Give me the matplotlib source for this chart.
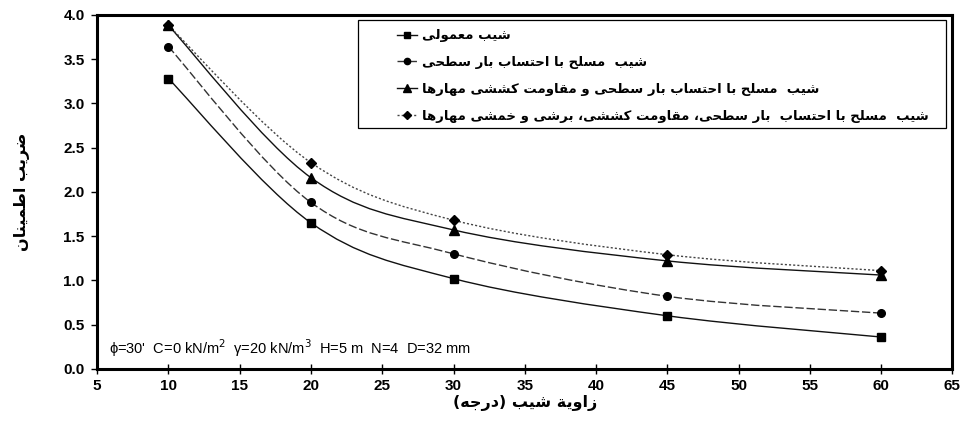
import matplotlib
matplotlib.use('Agg')
import matplotlib.pyplot as plt
import numpy as np
from matplotlib.lines import Line2D
from matplotlib.path import Path
from matplotlib.patches import PathPatch, Rectangle

# slope angle (degrees)
angles = [10, 20, 30, 45, 60]
# factor of safety for each case
fs_plain = [3.28, 1.65, 1.02, 0.60, 0.36]
fs_surface = [3.64, 1.88, 1.30, 0.82, 0.63]
fs_tension = [3.88, 2.16, 1.57, 1.22, 1.06]
fs_full = [3.88, 2.33, 1.68, 1.29, 1.11]

labels = [
    'شیب معمولی',
    'شیب  مسلح با احتساب بار سطحی',
    'شیب  مسلح با احتساب بار سطحی و مقاومت کششی مهارها',
    'شیب  مسلح با احتساب  بار سطحی، مقاومت کششی، برشی و خمشی مهارها',
]
x_ticks = [5, 10, 15, 20, 25, 30, 35, 40, 45, 50, 55, 60, 65]
y_ticks = [0.0, 0.5, 1.0, 1.5, 2.0, 2.5, 3.0, 3.5, 4.0]
x_title = 'زاویة شیب (درجه)'
y_title = 'ضریب اطمینان'
note = "\u03d5=30'  C=0 kN/m$^2$  \u03b3=20 kN/m$^3$  H=5 m  N=4  D=32 mm"

# (isolated, final, initial, medial) presentation forms
FORMS = {
    'ا': ('\ufe8d', '\ufe8e', None, None), 'ب': ('\ufe8f', '\ufe90', '\ufe91', '\ufe92'),
    'ة': ('\ufe93', '\ufe94', None, None), 'ت': ('\ufe95', '\ufe96', '\ufe97', '\ufe98'),
    'ج': ('\ufe9d', '\ufe9e', '\ufe9f', '\ufea0'), 'ح': ('\ufea1', '\ufea2', '\ufea3', '\ufea4'),
    'خ': ('\ufea5', '\ufea6', '\ufea7', '\ufea8'), 'د': ('\ufea9', '\ufeaa', None, None),
    'ر': ('\ufead', '\ufeae', None, None), 'ز': ('\ufeaf', '\ufeb0', None, None),
    'س': ('\ufeb1', '\ufeb2', '\ufeb3', '\ufeb4'), 'ش': ('\ufeb5', '\ufeb6', '\ufeb7', '\ufeb8'),
    'ض': ('\ufebd', '\ufebe', '\ufebf', '\ufec0'), 'ط': ('\ufec1', '\ufec2', '\ufec3', '\ufec4'),
    'ع': ('\ufec9', '\ufeca', '\ufecb', '\ufecc'), 'ق': ('\ufed5', '\ufed6', '\ufed7', '\ufed8'),
    'ل': ('\ufedd', '\ufede', '\ufedf', '\ufee0'), 'م': ('\ufee1', '\ufee2', '\ufee3', '\ufee4'),
    'ن': ('\ufee5', '\ufee6', '\ufee7', '\ufee8'), 'ه': ('\ufee9', '\ufeea', '\ufeeb', '\ufeec'),
    'و': ('\ufeed', '\ufeee', None, None), 'ی': ('\ufbfc', '\ufbfd', '\ufbfe', '\ufbff'),
    'ک': ('\ufb8e', '\ufb8f', '\ufb90', '\ufb91'),
}


def shape(text):
    """Join arabic letters and flip to visual order (no bidi lib here)."""
    out = []
    for i, ch in enumerate(text):
        if ch not in FORMS:
            out.append(ch)
            continue
        prev = text[i - 1] if i > 0 else ''
        nxt = text[i + 1] if i + 1 < len(text) else ''
        join_prev = prev in FORMS and FORMS[prev][2] is not None
        join_next = FORMS[ch][2] is not None and nxt in FORMS
        iso, fin, ini, med = FORMS[ch]
        if join_prev and join_next:
            out.append(med)
        elif join_prev:
            out.append(fin)
        elif join_next:
            out.append(ini)
        else:
            out.append(iso)
    flip = {'(': ')', ')': '('}
    return ''.join(flip.get(c, c) for c in reversed(out))


def smooth_patch(ax, xs, ys, **kw):
    # catmull-rom style bezier through the points, like excel's smoothed line
    p = np.column_stack([xs, ys]).astype(float)
    pts = np.vstack([p[0], p, p[-1]])
    verts = [tuple(p[0])]
    codes = [Path.MOVETO]
    for i in range(1, len(pts) - 2):
        c1 = pts[i] + (pts[i + 1] - pts[i - 1]) / 6
        c2 = pts[i + 1] - (pts[i + 2] - pts[i]) / 6
        verts += [tuple(c1), tuple(c2), tuple(pts[i + 1])]
        codes += [Path.CURVE4] * 3
    ax.add_patch(PathPatch(Path(verts, codes), fill=False, **kw))


plt.rcParams['font.family'] = ['Liberation Sans', 'DejaVu Sans']

fig = plt.figure(figsize=(9.62, 4.24), dpi=100)
ax = fig.add_axes([0.101, 0.130, 0.889, 0.835])

series = [fs_plain, fs_surface, fs_tension, fs_full]
markers = ['s', 'o', '^', 'D']
msizes = [5.5, 5.5, 6.5, 5]
styles = ['-', (0, (6, 2)), '-', (0, (1.5, 1.5))]
colors = ['#111111', '#333333', '#111111', '#444444']

handles = []
for ys, m, ms, ls, c, lab in zip(series, markers, msizes, styles, colors, labels):
    smooth_patch(ax, angles, ys, edgecolor=c, linewidth=1.0, linestyle=ls)
    ax.plot(angles, ys, linestyle='none', marker=m, markersize=ms, color='black')
    handles.append(Line2D([], [], color=c, linestyle=ls, linewidth=1.0,
                          marker=m, markersize=ms - 1, markerfacecolor='black',
                          markeredgecolor='black', label=shape(lab)))

ax.set_xlim(5, 65)
ax.set_ylim(0, 4.0)
ax.set_xticks(x_ticks)
ax.set_yticks(y_ticks)
ax.set_yticklabels([f'{v:.1f}' for v in y_ticks])
ax.tick_params(axis='x', direction='inout', length=7, width=1, labelsize=11, pad=4)
ax.tick_params(axis='y', direction='out', length=4, width=1, labelsize=11, pad=5)
for t in ax.get_xticklabels() + ax.get_yticklabels():
    t.set_fontweight('bold')
for s in ax.spines.values():
    s.set_linewidth(2.2)

ax.set_xlabel(shape(x_title), fontsize=11.5, fontweight='bold', family='DejaVu Sans', labelpad=1)
ax.set_ylabel(shape(y_title), fontsize=11.5, fontweight='bold', family='DejaVu Sans', labelpad=24)

ax.text(5.8, 0.23, note, fontsize=10.5, va='center', ha='left')

# legend frame drawn by hand: the reference box has wider side padding than top/bottom
ax.add_patch(Rectangle((0.305, 0.681), 0.687, 0.305, transform=ax.transAxes,
                       facecolor='white', edgecolor='black', linewidth=0.9, zorder=4))
leg = ax.legend(handles=handles, loc='upper left', bbox_to_anchor=(0.343, 0.978),
                prop={'family': 'DejaVu Sans', 'weight': 'bold', 'size': 9.5},
                handlelength=1.5, handletextpad=0.4, labelspacing=1.05,
                borderpad=0.0, frameon=False)
leg.set_zorder(5)

fig.savefig('out.png', dpi=100)
